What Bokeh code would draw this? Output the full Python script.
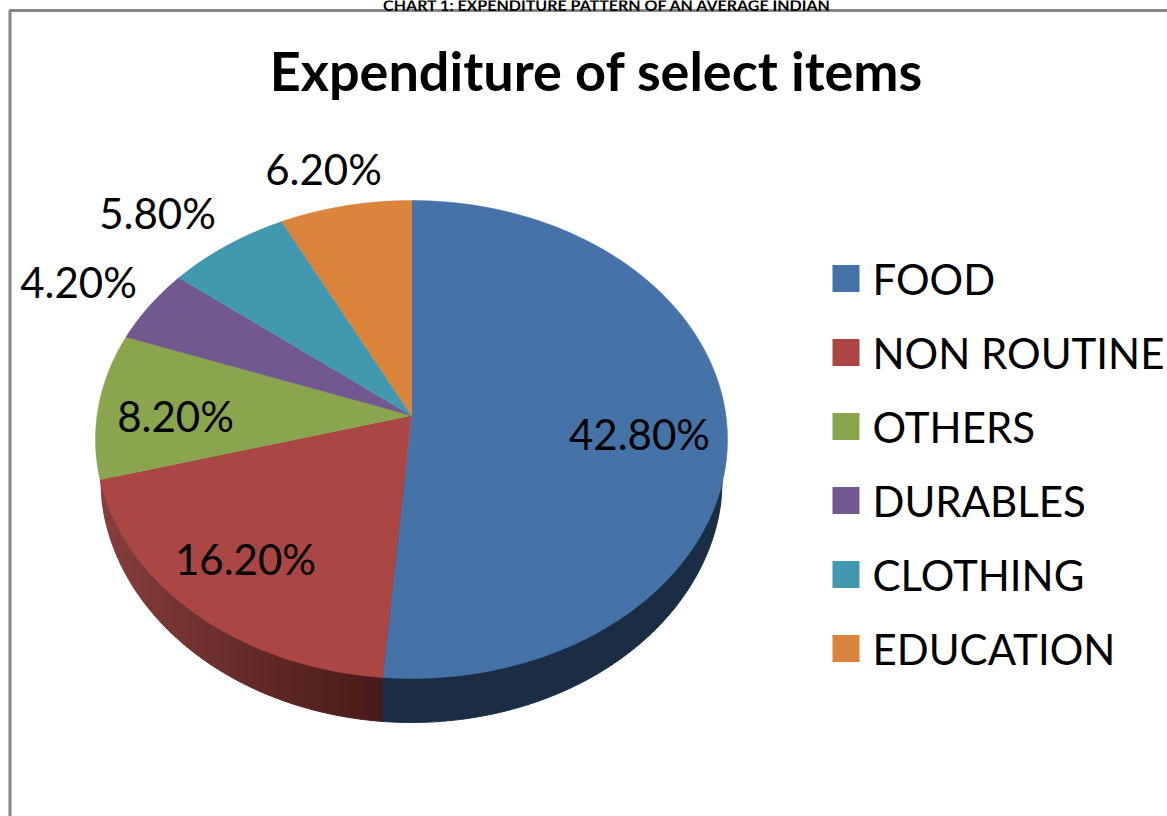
import numpy as np
from bokeh.core.properties import value
from bokeh.embed import file_html
from bokeh.models import Range1d
from bokeh.plotting import figure
from bokeh.resources import INLINE

# Expenditure shares, clockwise from twelve o'clock
categories = ["FOOD", "NON ROUTINE", "OTHERS", "DURABLES", "CLOTHING", "EDUCATION"]
shares = [42.8, 16.2, 8.2, 4.2, 5.8, 6.2]
share_labels = ["42.80%", "16.20%", "8.20%", "4.20%", "5.80%", "6.20%"]
colors = ["#4572A7", "#AA4643", "#89A54E", "#71588F", "#4198AF", "#DB843D"]

heading = "Expenditure of select items"
caption = "CHART 1: EXPENDITURE PATTERN OF AN AVERAGE INDIAN"

# Layout of the tilted pie: apex, radii and perspective strength
APEX_X, APEX_Y = 411.0, 415.0
RADIUS_X, RADIUS_Y = 314.4, 236.6
PERSPECTIVE = 0.1004
# Lower rim of the pie's edge
RIM_CY, RIM_A, RIM_B = 477.0, 311.0, 245.0

# Centres of the percentage labels, in slice order
label_x = [639, 245, 175, 78, 157, 323]
label_y = [433, 558, 415, 281, 212, 168]

SWATCH_X, SWATCH_SIZE, LEGEND_TEXT_X = 832, 27, 872
legend_y = [278, 352, 426, 500, 574, 648]

FONT = value("Lato")


def project(theta):
    """Map an angle on the pie's circular top to page coordinates."""
    s, c = np.sin(theta), np.cos(theta)
    k = 1.0 / (1.0 + PERSPECTIVE * c)
    return APEX_X + RADIUS_X * s * k, APEX_Y - RADIUS_Y * c * k


def rim_bottom(x):
    return RIM_CY + RIM_B * np.sqrt(np.clip(1 - ((x - APEX_X) / RIM_A) ** 2, 0, 1))


def mix(a, b, t):
    return "#%02x%02x%02x" % tuple(int(round(u + (v - u) * t)) for u, v in zip(a, b))


p = figure(
    width=1167, height=816, output_backend="svg", toolbar_location=None,
    x_range=Range1d(0, 1167), y_range=Range1d(816, 0),
    x_axis_type=None, y_axis_type=None, min_border=0, outline_line_color=None,
)
p.grid.visible = False

# Frame around the chart area
p.line([9.5, 9.5, 1167], [816, 10, 10], line_color="#868686", line_width=3)

fractions = np.cumsum([0] + shares) / sum(shares)
angles = fractions * 2 * np.pi

# Edge of the pie: the blue and red walls meet below the first slice boundary
split_x = project(angles[1])[0]

wall_xs, wall_ys, wall_cs = [], [], []
left = APEX_X - RIM_A
edges = np.append(np.arange(left, split_x, 5.0), split_x)
light, dark = (134, 62, 60), (70, 25, 24)
for x0, x1 in zip(edges[:-1], edges[1:]):
    t = (x0 - left) / (split_x - left)
    xs = np.linspace(x0, x1, 4)
    wall_xs.append(list(xs) + [x1, x0])
    wall_ys.append(list(rim_bottom(xs)) + [RIM_CY, RIM_CY])
    wall_cs.append(mix(light, dark, t))
p.patches(wall_xs, wall_ys, fill_color=wall_cs, line_color=wall_cs, line_width=1)

blue_x = np.linspace(split_x, APEX_X + RIM_A, 200)
p.patch(list(blue_x) + [blue_x[-1], blue_x[0]],
        list(rim_bottom(blue_x)) + [RIM_CY, RIM_CY],
        fill_color="#1B2D45", line_color="#1B2D45", line_width=1)

# Top surface
for start, end, color in zip(angles[:-1], angles[1:], colors):
    th = np.linspace(start, end, 160)
    rx, ry = project(th)
    p.patch([APEX_X] + list(rx), [APEX_Y] + list(ry),
            fill_color=color, line_color=color, line_width=0.5)

p.text(label_x, label_y, text=share_labels, text_font=FONT, text_font_size="42px",
       text_align="center", text_baseline="middle", text_color="#000000")

# Legend
p.rect([SWATCH_X + SWATCH_SIZE / 2] * len(categories), legend_y,
       width=SWATCH_SIZE, height=SWATCH_SIZE, fill_color=colors, line_color=None)
p.text([LEGEND_TEXT_X] * len(categories), legend_y, text=categories, text_font=FONT,
       text_font_size="42px", text_align="left", text_baseline="middle", text_color="#000000")

p.text([596], [70], text=[heading], text_font=FONT, text_font_size="54px",
       text_font_style="bold", text_align="center", text_baseline="middle", text_color="#000000")
p.text([607], [4], text=[caption], text_font=FONT, text_font_size="16px",
       text_font_style="bold", text_align="center", text_baseline="alphabetic", text_color="#000000")

open("out.html", "w").write(file_html(p, INLINE))
